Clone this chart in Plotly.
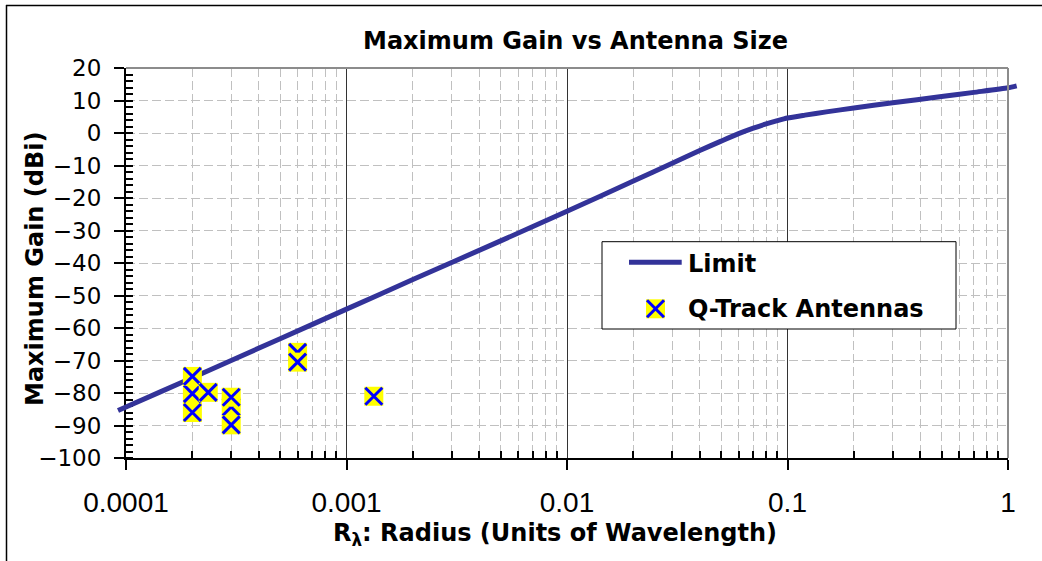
import plotly.graph_objects as go

# ---------------- data ----------------
limit_r = [9.2e-5, 1e-4, 2e-4, 5e-4, 1e-3, 2e-3, 5e-3, 0.01, 0.02, 0.03, 0.04, 0.05,
           0.06, 0.07, 0.08, 0.09, 0.1, 0.12, 0.15, 0.2, 0.3, 0.5, 0.7, 1.0, 1.095]
limit_gain = [-85.4, -84.3, -75.3, -63.3, -54.2, -45.1, -33.2, -24.1, -14.8, -9.3, -5.4, -2.5,
              -0.2, 1.5, 2.8, 3.8, 4.6, 5.5, 6.5, 7.7, 9.3, 11.2, 12.5, 13.9, 14.5]

qtrack_r = [0.0002, 0.0002, 0.0002, 0.000236, 0.0003, 0.0003, 0.0003, 0.0006, 0.0006, 0.00133]
qtrack_gain = [-86.0, -80.2, -74.9, -79.8, -84.3, -81.3, -89.8, -67.5, -70.5, -81.0]

x_tick_vals = [0.0001, 0.001, 0.01, 0.1, 1]
x_tick_text = ["0.0001", "0.001", "0.01", "0.1", "1"]
x_minor_vals = [m * 10.0 ** e for e in range(-4, 0) for m in range(2, 10)]

title_text = "<b>Maximum Gain vs Antenna Size</b>"
x_title = "<b>R<sub>λ</sub>: Radius (Units of Wavelength)</b>"
y_title = "<b>Maximum Gain (dBi)</b>"
legend_names = ["Limit", "Q-Track Antennas"]

# ---------------- layout geometry ----------------
W, H = 1042, 561
L, R, T, B = 110, 20, 68, 103
PW, PH = W - L - R, H - T - B
AX_LEFT, AX_RIGHT = 126, 1008


def fx(px):
    return (px - L) / PW


def fy(py):
    return 1 - (py - T) / PH


dpp = 4.0 / (AX_RIGHT - AX_LEFT)  # decades per pixel
x2_range = [-4 - (AX_LEFT - L) * dpp, 0 + (W - R - AX_RIGHT) * dpp]

LINE_COLOR = "#333399"
GRID_LIGHT = "#C0C0C0"
BOLD = "DejaVu Sans"

fig = go.Figure()

# placeholder trace so that the main (gridded) subplot is created
fig.add_trace(go.Scatter(x=[x_tick_vals[0]], y=[None], mode="markers", xaxis="x", yaxis="y",
                         showlegend=False, hoverinfo="skip", marker=dict(opacity=0)))

fig.add_trace(go.Scatter(
    x=limit_r, y=limit_gain, mode="lines", name=legend_names[0],
    line=dict(color=LINE_COLOR, width=5, shape="spline", smoothing=0.6),
    xaxis="x2", yaxis="y2", showlegend=False, hoverinfo="skip"))

for xv, yv in zip(qtrack_r, qtrack_gain):
    fig.add_trace(go.Scatter(
        x=[xv], y=[yv], mode="markers", xaxis="x2", yaxis="y2", showlegend=False,
        marker=dict(symbol="square", size=19, color="#FFFF00", line=dict(width=0))))
    fig.add_trace(go.Scatter(
        x=[xv], y=[yv], mode="markers", xaxis="x2", yaxis="y2", showlegend=False,
        marker=dict(symbol="x-thin", size=17, color="#0000FF",
                    line=dict(color="#0000FF", width=3))))

shapes = []
# plot-area top and right border (gray)
shapes.append(dict(type="line", xref="paper", yref="paper",
                   x0=fx(AX_LEFT), x1=fx(AX_RIGHT), y0=1, y1=1,
                   line=dict(color="#8C8C8C", width=2), layer="above"))
shapes.append(dict(type="line", xref="paper", yref="paper",
                   x0=fx(AX_RIGHT), x1=fx(AX_RIGHT), y0=0, y1=1,
                   line=dict(color="#8C8C8C", width=2), layer="above"))
# chart-area frame (top and left)
shapes.append(dict(type="line", xref="paper", yref="paper",
                   x0=fx(6), x1=fx(W + 5), y0=fy(5.5), y1=fy(5.5),
                   line=dict(color="black", width=1.5), layer="above"))
shapes.append(dict(type="line", xref="paper", yref="paper",
                   x0=fx(6.5), x1=fx(6.5), y0=fy(5), y1=fy(H + 5),
                   line=dict(color="black", width=1.5), layer="above"))
# legend box
shapes.append(dict(type="rect", xref="paper", yref="paper",
                   x0=fx(602), x1=fx(956), y0=fy(241.7), y1=fy(329),
                   line=dict(color="black", width=1), fillcolor="white", layer="above"))
shapes.append(dict(type="line", xref="paper", yref="paper",
                   x0=fx(629), x1=fx(681.7), y0=fy(262.3), y1=fy(262.3),
                   line=dict(color=LINE_COLOR, width=5), layer="above"))
shapes.append(dict(type="rect", xref="paper", yref="paper",
                   x0=fx(646), x1=fx(665), y0=fy(299.3), y1=fy(318.3),
                   line=dict(width=0), fillcolor="#FFFF00", layer="above"))
shapes.append(dict(type="line", xref="paper", yref="paper",
                   x0=fx(647), x1=fx(664), y0=fy(300.3), y1=fy(317.3),
                   line=dict(color="#0000FF", width=3), layer="above"))
shapes.append(dict(type="line", xref="paper", yref="paper",
                   x0=fx(647), x1=fx(664), y0=fy(317.3), y1=fy(300.3),
                   line=dict(color="#0000FF", width=3), layer="above"))

annotations = [
    dict(text=title_text, x=fx(575.5), y=fy(40.5), xref="paper", yref="paper",
         xanchor="center", yanchor="middle", showarrow=False,
         font=dict(family=BOLD, size=24, color="black")),
    dict(text=x_title, x=fx(555), y=fy(534), xref="paper", yref="paper",
         xanchor="center", yanchor="middle", showarrow=False,
         font=dict(family=BOLD, size=24, color="black")),
    dict(text=y_title, x=fx(35), y=fy(269), xref="paper", yref="paper",
         xanchor="center", yanchor="middle", showarrow=False, textangle=-90,
         font=dict(family=BOLD, size=24, color="black")),
    dict(text="<b>" + legend_names[0] + "</b>", x=fx(686), y=fy(263.5), xref="paper", yref="paper",
         xanchor="left", yanchor="middle", showarrow=False,
         font=dict(family=BOLD, size=24, color="black")),
    dict(text="<b>" + legend_names[1] + "</b>", x=fx(686), y=fy(308.5), xref="paper", yref="paper",
         xanchor="left", yanchor="middle", showarrow=False,
         font=dict(family=BOLD, size=24, color="black")),
]

fig.update_layout(
    width=W, height=H,
    margin=dict(l=L, r=R, t=T, b=B, pad=0),
    paper_bgcolor="white", plot_bgcolor="rgba(0,0,0,0)",
    showlegend=False,
    font=dict(family="DejaVu Sans", color="black"),
    xaxis=dict(
        type="log", range=[-4, 0], domain=[fx(AX_LEFT), fx(AX_RIGHT)], anchor="y",
        tickmode="array", tickvals=x_tick_vals, ticktext=x_tick_text,
        tickfont=dict(family="Liberation Sans", size=28, color="black"),
        ticks="outside", ticklen=10, tickwidth=1.5, tickcolor="black",
        showline=True, linecolor="black", linewidth=2,
        showgrid=True, gridcolor="#333333", gridwidth=1,
        zeroline=False, ticklabelstandoff=8,
        minor=dict(tickmode="array", tickvals=x_minor_vals, ticks="inside", ticklen=7,
                   tickwidth=1.5, tickcolor="black", showgrid=True,
                   gridcolor=GRID_LIGHT, gridwidth=1, griddash="9px,4px"),
    ),
    yaxis=dict(
        range=[-100, 20], domain=[0, 1], anchor="x",
        tickmode="linear", tick0=0, dtick=10,
        tickfont=dict(family="DejaVu Sans", size=23, color="black"),
        ticks="outside", ticklen=10, tickwidth=1.5, tickcolor="black",
        showline=True, linecolor="black", linewidth=2,
        showgrid=True, gridcolor=GRID_LIGHT, gridwidth=1, griddash="9px,4px",
        zeroline=False, ticklabelstandoff=8,
        minor=dict(dtick=2, ticks="inside", ticklen=7, tickwidth=1.5,
                   tickcolor="black", showgrid=False),
    ),
    xaxis2=dict(type="log", range=x2_range, domain=[0, 1], anchor="y2",
                visible=False, showgrid=False, zeroline=False),
    yaxis2=dict(range=[-100, 20], domain=[0, 1], anchor="x2",
                visible=False, showgrid=False, zeroline=False),
    shapes=shapes,
    annotations=annotations,
)

fig.write_html("out.html")
